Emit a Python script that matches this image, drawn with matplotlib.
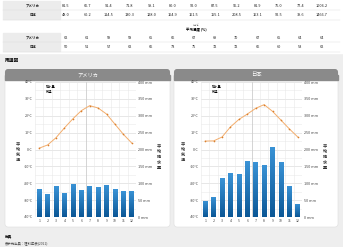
import numpy as np
import matplotlib
matplotlib.use("Agg")
import matplotlib.pyplot as plt
from matplotlib.patches import Rectangle, FancyBboxPatch
from matplotlib.colors import LinearSegmentedColormap

plt.rcParams['font.family'] = ['Noto Sans CJK JP', 'DejaVu Sans']

W, H = 343, 247

# --- data ---
months = np.arange(1, 13)
regions = ['アメリカ', '日本']
rain_us = [81.5, 66.7, 91.4, 71.8, 99.1, 80.0, 92.0, 87.5, 96.2, 81.9, 76.0, 77.4]
rain_jp = [48.0, 60.2, 114.5, 130.3, 128.0, 164.9, 161.5, 155.1, 208.5, 163.1, 92.5, 39.6]
rain_total = ['1006.2', '1466.7']
temp_us = [0.8, 2.7, 7.0, 12.8, 18.2, 23.0, 26.0, 24.6, 21.0, 15.0, 9.0, 3.8]
temp_jp = [5.0, 5.1, 7.4, 13.4, 17.8, 21.0, 24.4, 26.6, 22.6, 17.4, 12.2, 7.4]
hum_us = [62, 61, 59, 58, 65, 66, 67, 69, 70, 67, 65, 64, 64]
hum_jp = [50, 51, 57, 62, 66, 73, 75, 72, 72, 66, 60, 53, 62]
temp_ticks = [40, 30, 20, 10, 0, -10, -20, -30, -40]
rain_ticks = [400, 350, 300, 250, 200, 150, 100, 50, 0]


def box(x0, y0, x1, y1):
    return [x0 / W, 1 - y1 / H, (x1 - x0) / W, (y1 - y0) / H]


def ftext(x, y, s, **kw):
    fig.text(x / W, 1 - y / H, s, **kw)


fig = plt.figure(figsize=(W / 100, H / 100), dpi=100, facecolor='#eeeeee')
bg = fig.add_axes([0, 0, 1, 1])
bg.set_xlim(0, W)
bg.set_ylim(H, 0)
bg.axis('off')

# tables
bg.add_patch(Rectangle((0, 0), W, 53, color='white', zorder=0))
col_x = [66 + i * 21.3 for i in range(13)]
for ry, lab in [(1, 'アメリカ'), (10.5, '日本'), (33, 'アメリカ'), (42.5, '日本')]:
    bg.add_patch(Rectangle((3, ry), 57, 9, color='#ececec', zorder=1))
    bg.plot([3, W - 3], [ry + 9.2, ry + 9.2], color='#dddddd', lw=0.3)
    ftext(33, ry + 4.8, lab, fontsize=2.5, fontweight='bold', ha='center', va='center', color='#222222')

rows = [(rain_us, rain_total[0], 5.8), (rain_jp, rain_total[1], 15.3)]
for vals, tot, y in rows:
    for x, v in zip(col_x, vals + [None]):
        s = tot if v is None else f'{v:.1f}'
        ftext(x, y, s, fontsize=2.8, ha='center', va='center', color='#222222')
for vals, y in [(hum_us, 37.8), (hum_jp, 47.3)]:
    for x, v in zip(col_x, vals):
        ftext(x, y, str(v), fontsize=2.8, ha='center', va='center', color='#222222')
ftext(196, 25, 'しつど', fontsize=1.6, ha='center', va='center', color='#555555')
ftext(196, 29, '平均湿度 (%)', fontsize=2.5, ha='center', va='center', fontweight='bold')
ftext(5, 60, '雨温図', fontsize=3.4, fontweight='bold', va='center')

ftext(5, 236, '出典', fontsize=2.6, fontweight='bold', va='center')
ftext(5, 243.5, '表示元出典：理科年表(2021)', fontsize=2.4, va='center', color='#444444')

cmap = LinearSegmentedColormap.from_list('bar', ['#0b5796', '#3a93d6'])
panels = [
    (5, 170, 35, 136, 30, 140, temp_us, rain_us, regions[0]),
    (174, 338, 201, 302, 195, 306, temp_jp, rain_jp, regions[1]),
]

for px0, px1, ax0, ax1, lx, rx, temps, rain, name in panels:
    bg.add_patch(FancyBboxPatch((px0, 70), px1 - px0, 157, boxstyle='round,pad=0,rounding_size=3',
                                fc='white', ec='#dddddd', lw=0.4, zorder=1))
    bg.add_patch(FancyBboxPatch((px0, 69), px1 - px0, 11, boxstyle='round,pad=0,rounding_size=3',
                                fc='#8a8a8a', ec='none', zorder=2))
    bg.add_patch(Rectangle((px0, 75), px1 - px0, 5, color='#8a8a8a', zorder=2))
    ftext((px0 + px1) / 2, 74.8, name, fontsize=3.8, color='white', ha='center', va='center')

    ax2 = fig.add_axes(box(ax0, 82, ax1, 217))
    ax = ax2.twinx()
    # swap so temperature axis on left
    ax.yaxis.tick_left()
    ax2.yaxis.tick_right()
    ax.set_zorder(ax2.get_zorder() + 1)
    ax.patch.set_visible(False)

    ax2.set_xlim(0.5, 12.5)
    ax2.set_ylim(0, 400)
    ax.set_ylim(-40, 40)
    for y in range(0, 401, 25):
        ax2.axhline(y, color='#d4d4d4' if y % 50 == 0 else '#ebebeb', lw=0.4, zorder=0)
    for xm in np.arange(0.5, 13, 1):
        ax2.axvline(xm, color='#e8e8e8', lw=0.4, zorder=0)
    ax2.axvline(6.5, color='#c4c4c4', lw=0.45, zorder=0)

    bars = ax2.bar(months, rain, width=0.55, color='#1f74b8', zorder=2)
    grad = np.linspace(1, 0, 50).reshape(-1, 1)
    for b in bars:
        im = ax2.imshow(grad, extent=[b.get_x(), b.get_x() + b.get_width(), 0, b.get_height()],
                        aspect='auto', cmap=cmap, zorder=3, origin='upper')
        im.set_clip_path(b)
    ax2.set_xlim(0.5, 12.5)
    ax2.set_ylim(0, 400)

    ax.plot(months, temps, color='#f3ad6c', lw=0.7, zorder=4)
    ax.plot(months, temps, 'o', color='#d9802f', ms=1.2, mew=0, zorder=5)

    ax.set_yticks(temp_ticks)
    ax.set_yticklabels([f'{t}°C' for t in temp_ticks], fontsize=2.7, color='#444444')
    ax2.set_yticks(rain_ticks)
    ax2.set_yticklabels([f'{r} mm' for r in rain_ticks], fontsize=2.7, color='#444444')
    ax2.set_xticks(months)
    ax2.set_xticklabels([str(m) for m in months], fontsize=2.5, color='#444444')
    for a in (ax, ax2):
        a.tick_params(length=0, pad=1.5)
        for s in a.spines.values():
            s.set_visible(False)

    ftext(lx - 12, 152, '\n'.join('平均気温'), fontsize=3.0, ha='center', va='center',
          linespacing=1.05, fontweight='bold', color='#333333')
    ftext(rx + 19, 157, '\n'.join('平均降水量'), fontsize=3.0, ha='center', va='center',
          linespacing=1.05, fontweight='bold', color='#333333')

    # legend
    bg.add_patch(Rectangle((ax0 + 7, 86), 2.6, 2.6, color='#1f74b8', zorder=5))
    ftext(ax0 + 11, 87.3, '降水量', fontsize=2.3, va='center')
    bg.plot([ax0 + 6.5, ax0 + 10], [92, 92], color='#f3ad6c', lw=0.5, zorder=5)
    bg.plot([ax0 + 8.2], [92], 'o', color='#d9802f', ms=1.2, mew=0, zorder=6)
    ftext(ax0 + 11, 92, '気温', fontsize=2.3, va='center')

fig.savefig('out.png', dpi=100, facecolor=fig.get_facecolor())
